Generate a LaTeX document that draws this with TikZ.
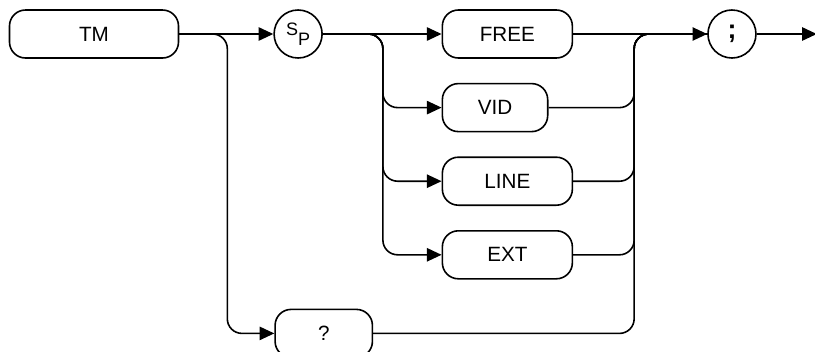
\documentclass[tikz,border=0pt]{standalone}
\usepackage{fontspec}
\setmainfont{Liberation Sans}
\usetikzlibrary{arrows.meta,positioning,calc}

\tikzset{
  kw/.style={draw, line width=1.2pt, rounded corners=12pt, minimum height=36pt,
    inner sep=0pt, font=\fontsize{15.5}{17}\selectfont},
  circ/.style={draw, line width=1.2pt, circle, minimum size=36pt, inner sep=0pt,
    font=\fontsize{13.5}{15}\selectfont},
  rail/.style={line width=1.2pt, rounded corners=11pt},
  arr/.style={rail, -{Triangle[length=11pt,width=10pt]}}
}

\begin{document}
\begin{tikzpicture}
  \useasboundingbox (0,0) rectangle (611.25pt,-263.25pt);
  % Nodes
  \node[kw, minimum width=126.75pt] (tm) at (70.5pt,-25.5pt) {TM};
  \node[circ, right=70.5pt of tm] (sp) {\raisebox{3.75pt}{S}\raisebox{-3.75pt}{P}};
  \node[kw, minimum width=97.5pt, right=89pt of sp] (free) {FREE};
  \node[kw, minimum width=79pt, below=18pt of free.south west, anchor=north west] (vid) {VID};
  \node[kw, minimum width=97.5pt, below=18pt of vid.south west, anchor=north west] (line) {LINE};
  \node[kw, minimum width=97.5pt, below=18pt of line.south west, anchor=north west] (ext) {EXT};
  \coordinate (qtop) at ($(sp.west |- ext.south)+(0.75pt,-21.75pt)$);
  \node[kw, minimum width=73pt, anchor=north west] (query) at (qtop) {?};
  \node[circ, right=100.5pt of free] (semi) {\fontsize{20}{22}\selectfont\bfseries ;};

  % Branch and merge points
  \coordinate (splitA) at ($(tm.east)+(36pt,0)$);
  \coordinate (splitB) at ($(sp.east)+(45pt,0)$);
  \coordinate (mergeC) at ($(free.east)+(45.75pt,0)$);
  \coordinate[right=45pt of semi] (out);

  % Arrows
  \draw[arr] (tm) -- (sp);
  \draw[arr] (tm.east) -| (splitA |- query.west) -- (query.west);
  \draw[arr] (sp) -- (free);
  \draw[arr] (sp.east) -| (splitB |- vid.west) -- (vid.west);
  \draw[arr] (sp.east) -| (splitB |- line.west) -- (line.west);
  \draw[arr] (sp.east) -| (splitB |- ext.west) -- (ext.west);

  % Merging into the terminator
  \draw[rail] (vid.east) -| (mergeC) -- (semi.west);
  \draw[rail] (line.east) -| (mergeC) -- (semi.west);
  \draw[rail] (ext.east) -| (mergeC) -- (semi.west);
  \draw[rail] (query.east) -| (mergeC) -- (semi.west);
  \draw[arr] (free) -- (semi);
  \draw[arr] (semi) -- (out);
\end{tikzpicture}
\end{document}
